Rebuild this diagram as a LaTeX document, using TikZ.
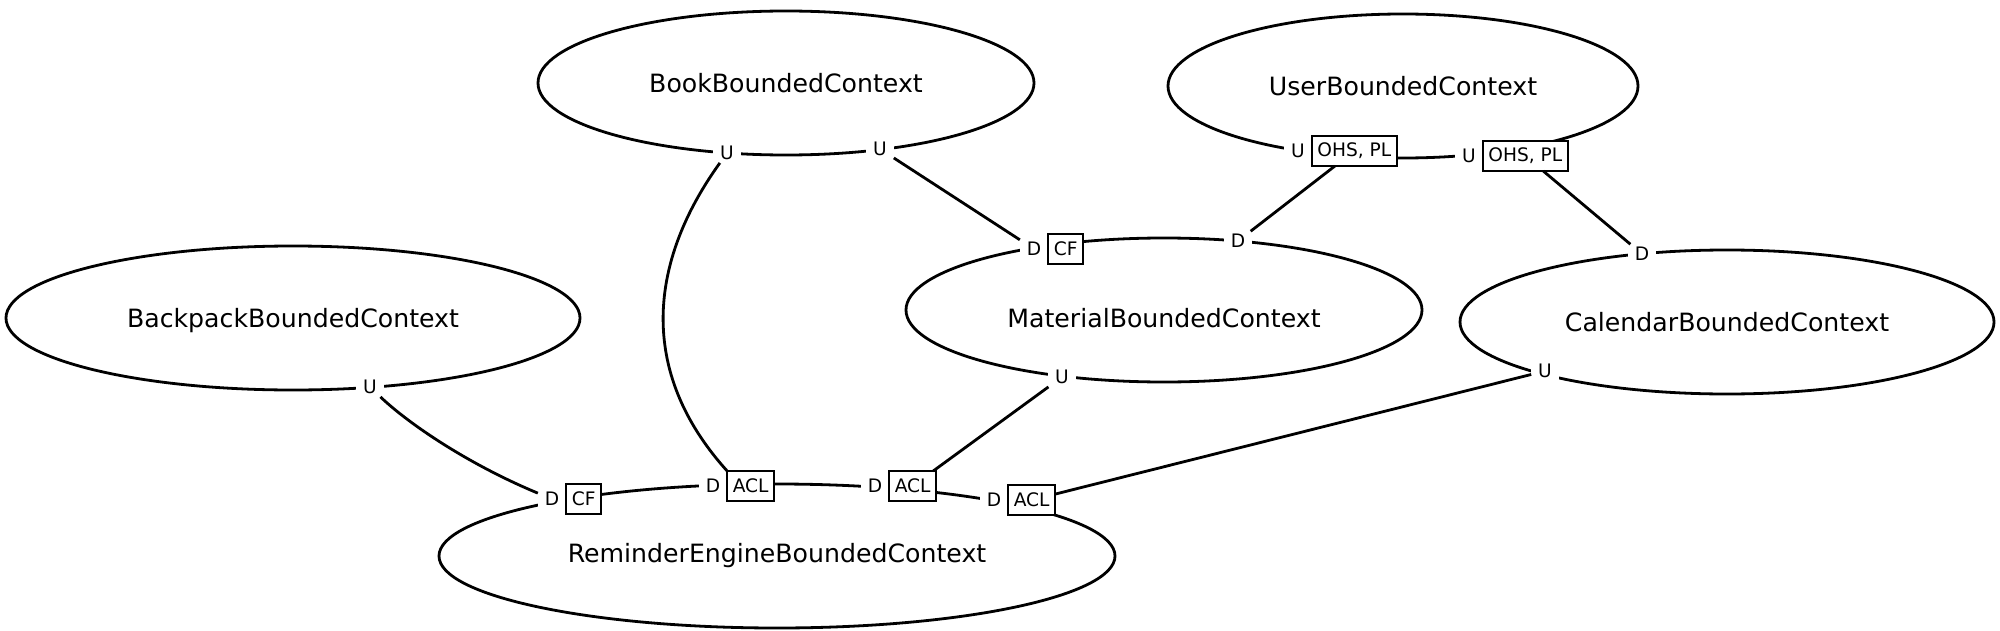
\documentclass[tikz,border=0pt]{standalone}
\usepackage{fontspec}
\setmainfont{DejaVu Sans}
\usetikzlibrary{shapes.geometric,positioning}

\tikzstyle{context}=[ellipse,draw,line width=1.4pt,inner sep=0pt,minimum height=72pt,font=\fontsize{12.6}{15}\selectfont]
\tikzstyle{role}=[fill=white,inner xsep=3.5pt,inner ysep=1.5pt,outer sep=0pt,font=\fontsize{9.3}{11}\selectfont]
\tikzstyle{tagbox}=[draw,fill=white,line width=0.9pt,inner xsep=2.8pt,inner ysep=0pt,outer sep=0pt,minimum height=15pt,font=\fontsize{9.3}{11}\selectfont]
\tikzstyle{relation}=[draw,line width=1.4pt]

\begin{document}
\begin{tikzpicture}[x=0.5pt,y=-0.5pt]
\useasboundingbox (0,0) rectangle (2000,631);
\foreach \pos/\name/\rx/\th/\ctx in {{(786,83)/book/248/9.6/BookBoundedContext},
                                {(1403,86)/user/235/9.6/UserBoundedContext},
                                {(293,318)/backpack/287/12/BackpackBoundedContext},
                                {(1164,310)/material/258/18/MaterialBoundedContext},
                                {(1727,322)/calendar/267/9.6/CalendarBoundedContext},
                                {(777,556)/reminder/338/9.6/ReminderEngineBoundedContext}}{
  \node[context,minimum width=\rx pt,text height=\th pt] (\name) at \pos {\ctx};
}
\foreach \pos/\name/\side in {{(727,153)/bookUa/U}, {(880,149)/bookUb/U},
                              {(1298,151)/userUa/U}, {(1469,156)/userUb/U},
                              {(1034,249)/matDa/D}, {(1238,241)/matDb/D},
                              {(1062,377)/matU/U}, {(1642,254)/calD/D},
                              {(1545,371)/calU/U}, {(370,387)/bagU/U},
                              {(552,499)/remDa/D}, {(713,486)/remDb/D},
                              {(875,486)/remDc/D}, {(994,500)/remDd/D}}{
  \node[role] (\name) at \pos {\side};
}
\node[tagbox,right=0pt of userUa] (userBoxa) {OHS, PL};
\node[tagbox,right=0pt of userUb] (userBoxb) {OHS, PL};
\node[tagbox,right=0pt of matDa] (matBox) {CF};
\node[tagbox,right=0pt of remDa] (remBoxa) {CF};
\node[tagbox,right=0pt of remDb] (remBoxb) {ACL};
\node[tagbox,right=0pt of remDc] (remBoxc) {ACL};
\node[tagbox,right=0pt of remDd] (remBoxd) {ACL};

\foreach \source/\dest in {bookUb/matDa, userBoxa/matDb, userBoxb/calD,
                           matU/remBoxc, calU/remBoxd}{
  \path[relation] (\source) -- (\dest);
}
\path[relation] (bagU) .. controls (410,425) and (470,465) .. (remDa);
\path[relation] (bookUa) .. controls (650,260) and (636,370) .. (remBoxb.north west);
\end{tikzpicture}
\end{document}
